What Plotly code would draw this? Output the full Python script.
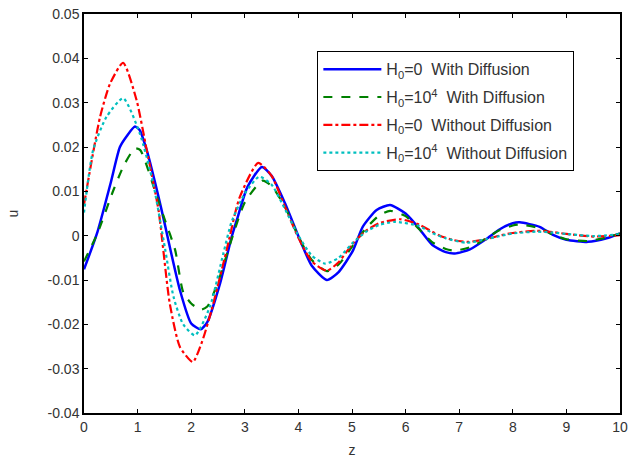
import plotly.graph_objects as go

# H0=0 with diffusion (blue, solid)
z_blue = [0, 0.25, 0.5, 0.67, 0.8, 0.95, 1.04, 1.17, 1.36, 1.5, 1.6, 1.79, 2.0, 2.18, 2.3, 2.54, 2.75, 2.85, 3.05, 3.32, 3.5, 3.75, 4.03, 4.25, 4.53, 4.75, 5.02, 5.2, 5.46, 5.71, 6.0, 6.2, 6.5, 6.75, 6.92, 7.2, 7.5, 7.75, 8.0, 8.13, 8.5, 8.75, 9.0, 9.4, 9.75, 10]
u_blue = [-0.0076, 0.0008, 0.0120, 0.0200, 0.0225, 0.0246, 0.0238, 0.0193, 0.0103, 0.0030, -0.0025, -0.0123, -0.0198, -0.0211, -0.0195, -0.0107, -0.0005, 0.0035, 0.0110, 0.0155, 0.0135, 0.0073, -0.0010, -0.0068, -0.0100, -0.0082, -0.0033, 0.0020, 0.0058, 0.0069, 0.0050, 0.0024, -0.0021, -0.0037, -0.0040, -0.0031, -0.0008, 0.0014, 0.0028, 0.0030, 0.0020, 0.0002, -0.0009, -0.0014, -0.0006, 0.0005]

# H0=10^4 with diffusion (green, dashed)
z_green = [0, 0.25, 0.55, 0.75, 0.95, 1.05, 1.36, 1.51, 1.70, 1.85, 2.0, 2.18, 2.3, 2.5, 2.75, 3.0, 3.33, 3.5, 3.75, 4.0, 4.25, 4.53, 4.75, 5.0, 5.25, 5.5, 5.71, 6.0, 6.25, 6.5, 6.75, 6.92, 7.25, 7.5, 7.75, 8.0, 8.13, 8.5, 8.75, 9.0, 9.4, 9.75, 10]
u_green = [-0.0058, 0.0005, 0.0103, 0.0160, 0.0197, 0.0193, 0.0088, 0.0035, -0.0032, -0.0127, -0.0153, -0.0167, -0.0160, -0.0105, -0.0010, 0.0075, 0.0124, 0.0112, 0.0065, -0.0002, -0.0055, -0.0080, -0.0065, -0.0025, 0.0015, 0.0045, 0.0056, 0.0044, 0.0015, -0.0015, -0.0030, -0.0034, -0.0024, -0.0006, 0.0012, 0.0023, 0.0025, 0.0017, 0.0002, -0.0008, -0.0012, -0.0004, 0.0005]

# H0=0 without diffusion (red, dash-dot)
z_red = [0, 0.3, 0.49, 0.73, 0.98, 1.17, 1.39, 1.6, 1.79, 2.03, 2.2, 2.38, 2.66, 2.9, 3.25, 3.5, 3.75, 4.0, 4.25, 4.53, 4.75, 5.0, 5.25, 5.5, 5.9, 6.25, 6.64, 6.9, 7.17, 7.5, 7.75, 8.0, 8.45, 8.75, 9.0, 9.5, 10]
u_red = [0.0070, 0.0268, 0.0344, 0.0390, 0.0306, 0.0193, 0.0058, -0.0153, -0.0251, -0.0285, -0.0240, -0.0168, -0.0033, 0.0085, 0.0164, 0.0135, 0.0065, -0.0005, -0.0058, -0.0079, -0.0060, -0.0020, 0.0010, 0.0028, 0.0037, 0.0025, 0.0000, -0.0010, -0.0014, -0.0008, 0.0000, 0.0006, 0.0011, 0.0008, 0.0004, -0.0002, 0.0001]

# H0=10^4 without diffusion (cyan, dotted)
z_cyan = [0, 0.17, 0.42, 0.73, 1.04, 1.29, 1.51, 1.67, 1.85, 2.07, 2.35, 2.6, 2.75, 3.0, 3.27, 3.5, 3.75, 4.0, 4.25, 4.5, 4.75, 5.0, 5.25, 5.5, 5.8, 6.25, 6.5, 6.75, 7.14, 7.5, 7.75, 8.0, 8.45, 8.75, 9.0, 9.5, 10]
u_cyan = [0.0052, 0.0193, 0.0268, 0.0310, 0.0231, 0.0118, -0.0028, -0.0138, -0.0200, -0.0225, -0.0160, -0.0040, 0.0030, 0.0095, 0.0133, 0.0115, 0.0060, 0.0000, -0.0045, -0.0063, -0.0050, -0.0018, 0.0008, 0.0024, 0.0031, 0.0022, 0.0006, -0.0006, -0.0016, -0.0008, -0.0001, 0.0005, 0.0009, 0.0007, 0.0004, -0.0001, 0.0003]

x_ticks = [0, 1, 2, 3, 4, 5, 6, 7, 8, 9, 10]
y_ticks = [-0.04, -0.03, -0.02, -0.01, 0, 0.01, 0.02, 0.03, 0.04, 0.05]
y_tick_labels = ["-0.04", "-0.03", "-0.02", "-0.01", "0", "0.01", "0.02", "0.03", "0.04", "0.05"]

names = [
    "H<sub>0</sub>=0  With Diffusion",
    "H<sub>0</sub>=10<sup>4</sup>  With Diffusion",
    "H<sub>0</sub>=0  Without Diffusion",
    "H<sub>0</sub>=10<sup>4</sup>  Without Diffusion",
]

fig = go.Figure()
series = [
    (z_blue, u_blue, "#0000ff", "solid", 2.5),
    (z_green, u_green, "#008000", "dash", 2.2),
    (z_red, u_red, "#ff0000", "dashdot", 2.2),
    (z_cyan, u_cyan, "#00bfbf", "dot", 2.2),
]
for i, (zz, uu, col, dash, w) in enumerate(series):
    fig.add_trace(go.Scatter(
        x=zz, y=uu, mode="lines", name=names[i],
        line=dict(color=col, dash=dash, width=w, shape="spline", smoothing=0.6),
        legendgroup=str(i),
    ))

FONT = "Liberation Sans, Arial, sans-serif"
axis_common = dict(
    showline=True, linecolor="black", linewidth=1.5, mirror="ticks",
    ticks="inside", ticklen=4, tickcolor="black", showgrid=False, zeroline=False,
    automargin=True,
    tickfont=dict(family=FONT, size=14, color="#333333"),
)

fig.update_layout(
    width=630, height=463,
    margin=dict(l=84, r=10, t=14, b=50, autoexpand=False),
    paper_bgcolor="white", plot_bgcolor="white",
    font=dict(family=FONT, size=14, color="#333333"),
    xaxis=dict(range=[0, 10], tickvals=x_ticks,
               title=dict(text="z", standoff=12, font=dict(size=14)), **axis_common),
    yaxis=dict(range=[-0.04, 0.05], tickvals=y_ticks, ticktext=y_tick_labels,
               title=dict(text="u", standoff=26, font=dict(size=14)), **axis_common),
    legend=dict(
        x=0.435, y=0.907, xanchor="left", yanchor="top",
        bordercolor="black", borderwidth=1.2, bgcolor="white",
        font=dict(family=FONT, size=16, color="#333333"), tracegroupgap=4,
        itemwidth=58,
    ),
    showlegend=True,
)

fig.write_html("out.html", config={"displayModeBar": False},
               post_script="document.body.style.margin='0px';")
